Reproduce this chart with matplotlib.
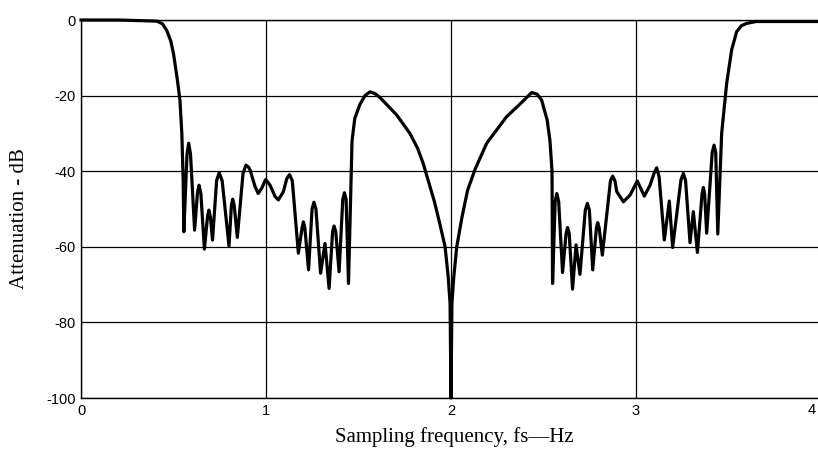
import matplotlib
matplotlib.use("Agg")
import matplotlib.pyplot as plt

plt.rcParams["axes.unicode_minus"] = False

# traced response, left half (0 .. 2 fs)
freq_left = [0.0, 0.2, 0.41, 0.44, 0.463, 0.485, 0.50, 0.52, 0.535, 0.545, 0.552, 0.556,
             0.573, 0.582, 0.592, 0.614, 0.630, 0.638, 0.648, 0.667, 0.684, 0.691, 0.699,
             0.711, 0.733, 0.747, 0.763, 0.800, 0.813, 0.820, 0.828, 0.845, 0.876, 0.892,
             0.905, 0.914, 0.941, 0.958, 0.977, 0.998, 1.022, 1.049, 1.067, 1.094, 1.112,
             1.127, 1.142, 1.175, 1.195, 1.202, 1.210, 1.230, 1.249, 1.259, 1.270, 1.295,
             1.319, 1.341, 1.360, 1.368, 1.377, 1.395, 1.415, 1.424, 1.433, 1.446, 1.465,
             1.48, 1.508, 1.535, 1.562, 1.59, 1.616, 1.706, 1.778, 1.82, 1.85, 1.88, 1.91,
             1.94, 1.968, 1.985, 1.995, 2.0]
atten_left = [0.0, 0.0, -0.3, -1.0, -2.7, -5.5, -8.9, -15.5, -21.3, -30.0, -42.0, -56.0,
              -35.5, -32.6, -35.5, -55.6, -45.5, -43.7, -46.0, -60.6, -52.0, -50.3, -52.0,
              -58.2, -42.5, -40.4, -42.5, -59.8, -49.0, -47.4, -49.0, -57.5, -40.5, -38.4,
              -38.9, -39.7, -44.1, -45.9, -44.5, -42.2, -43.7, -46.7, -47.6, -45.4, -42.0,
              -40.9, -42.5, -61.7, -55.0, -53.4, -55.0, -66.1, -50.0, -48.2, -50.0, -67.0,
              -59.1, -71.0, -56.0, -54.5, -56.0, -66.6, -47.5, -45.7, -47.5, -69.7, -32.0,
              -26.0, -22.3, -20.0, -19.0, -19.5, -20.5, -25.1, -30.0, -34.0, -38.0, -43.0,
              -48.0, -54.0, -60.0, -68.0, -75.0, -100.0]

# traced response, right half (2 .. 4 fs)
freq_right = [2.005, 2.015, 2.031, 2.06, 2.09, 2.13, 2.193, 2.3, 2.378, 2.436, 2.465,
              2.49, 2.52, 2.535, 2.546, 2.549, 2.563, 2.572, 2.582, 2.603, 2.622, 2.630,
              2.639, 2.657, 2.676, 2.697, 2.726, 2.737, 2.748, 2.766, 2.786, 2.793, 2.801,
              2.818, 2.862, 2.874, 2.886, 2.896, 2.932, 2.968, 3.007, 3.03, 3.045, 3.076,
              3.098, 3.112, 3.125, 3.153, 3.18, 3.198, 3.243, 3.256, 3.268, 3.292, 3.31,
              3.332, 3.357, 3.364, 3.371, 3.382, 3.412, 3.422, 3.431, 3.442, 3.463, 3.49,
              3.517, 3.544, 3.57, 3.598, 3.65, 4.0]
atten_right = [-75.0, -68.0, -60.0, -52.0, -45.0, -39.5, -32.6, -25.6, -22.0, -19.2, -19.6,
               -21.2, -26.5, -32.0, -40.0, -69.7, -48.0, -45.9, -48.0, -66.8, -56.5, -54.9,
               -56.5, -71.2, -59.5, -67.3, -50.3, -48.5, -50.3, -66.1, -55.0, -53.6, -55.0,
               -62.2, -42.5, -41.3, -42.5, -45.4, -48.1, -46.3, -42.6, -45.0, -46.6, -43.7,
               -40.5, -39.1, -41.5, -58.2, -47.9, -60.2, -42.3, -40.6, -42.5, -58.9, -50.7,
               -61.5, -46.0, -44.3, -46.0, -56.4, -35.0, -33.1, -35.0, -56.6, -30.0, -16.8,
               -7.9, -3.1, -1.5, -0.9, -0.4, -0.4]

freq = freq_left + freq_right
atten = atten_left + atten_right

x_ticks = [0, 1, 2, 3, 4]
x_labels = ["0", "1", "2", "3", "4"]
y_ticks = [0, -20, -40, -60, -80, -100]

fig = plt.figure(figsize=(8.18, 4.53), dpi=100)
ax = fig.add_axes([81 / 818, 55 / 453, 740 / 818, 378 / 453])

ax.plot(freq, atten, color="black", linewidth=2.3, clip_on=False, zorder=3)

ax.set_xlim(0, 4)
ax.set_ylim(-100, 0)
ax.set_xticks(x_ticks)
# the "4" sits on the cropped right edge, so it is drawn separately below
ax.set_xticklabels(x_labels[:-1] + [""])
ax.set_yticks(y_ticks)
ax.grid(True, color="black", linewidth=0.9)
ax.tick_params(length=0, pad=4)
for lab in ax.get_xticklabels() + ax.get_yticklabels():
    lab.set_family("Liberation Sans")
    lab.set_fontsize(10.5)
for s in ax.spines.values():
    s.set_linewidth(1.0)

fig.text(816 / 818, 1 - 410 / 453, x_labels[-1], ha="right", va="center",
         family="Liberation Sans", fontsize=10.5)

fig.text(454 / 818, 1 - 437 / 453, "Sampling frequency, fs\u2014Hz", ha="center", va="center",
         family="Liberation Serif", fontsize=15)
fig.text(20 / 818, 1 - 219 / 453, "Attenuation - dB", ha="center", va="center", rotation=90,
         family="Liberation Serif", fontsize=15)

fig.savefig("out.png", dpi=100)
